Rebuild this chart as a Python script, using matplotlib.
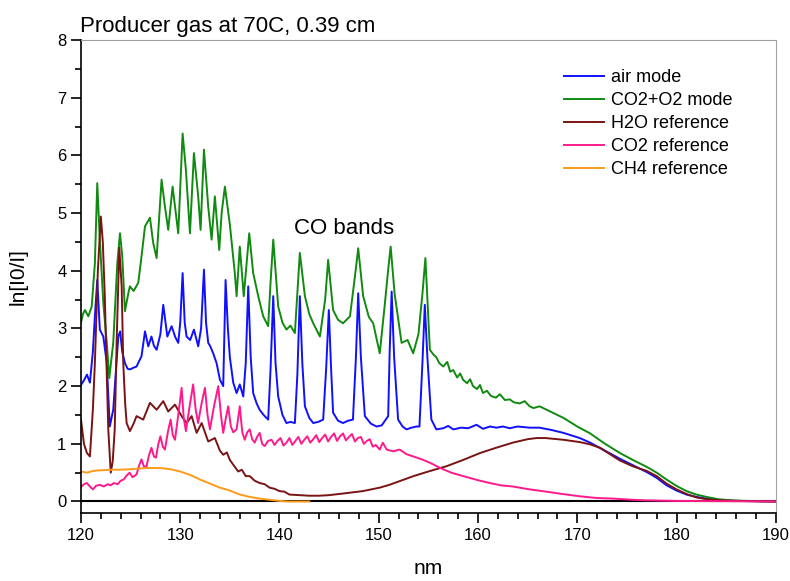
import matplotlib.pyplot as plt
from matplotlib.ticker import MultipleLocator

plt.rcParams['font.family'] = ['Liberation Sans', 'DejaVu Sans']

# ~~~ DATA ~~~~~~~~~~~~~~~~~~~~~~~~~~~~~~~~~~~~~~~~~~~~~~~~~~~~~~~~~~~~~~~~~~~~
air_nm = [120.0, 120.3, 120.6, 120.9, 121.2, 121.4, 121.64, 121.9, 122.25, 122.6,
          122.9, 123.25, 123.5, 123.76, 123.95, 124.15, 124.43, 124.7, 124.93, 125.3,
          125.6, 126.1, 126.45, 126.78, 127.1, 127.35, 127.62, 128.0, 128.29, 128.7,
          129.13, 129.5, 129.8, 130.0, 130.24, 130.45, 130.64, 131.0, 131.38, 131.81,
          132.1, 132.39, 132.6, 132.82, 133.0, 133.32, 133.66, 134.0, 134.33, 134.57,
          134.8, 135.0, 135.34, 135.68, 136.0, 136.35, 136.6, 136.85, 137.1, 137.35,
          137.7, 138.0, 138.4, 138.86, 139.1, 139.37, 139.6, 139.87, 140.3, 140.7,
          141.1, 141.55, 141.8, 142.05, 142.3, 142.56, 143.0, 143.4, 143.9, 144.4,
          144.7, 144.97, 145.2, 145.4, 145.9, 146.4, 146.9, 147.4, 147.7, 147.93,
          148.2, 148.6, 149.2, 149.78, 150.3, 150.95, 151.1, 151.3, 151.55, 151.95,
          152.4, 152.8, 153.3, 153.8, 154.1, 154.4, 154.64, 154.9, 155.3, 155.8,
          156.5, 157.0, 157.5, 158.3, 159.0, 159.85, 160.5, 161.2, 161.86, 162.5,
          163.2, 164.0, 165.2, 166.2, 167.4, 168.6, 170.25, 171.3, 172.8, 174.3,
          175.6, 177.0, 178.0, 179.0, 180.0, 181.0, 182.0, 183.0, 184.5, 186.0, 190.0]
air = [2.02, 2.10, 2.20, 2.06, 2.60, 3.21, 3.84, 2.98, 2.86, 2.40,
       1.30, 1.59, 2.20, 2.86, 2.95, 2.60, 2.40, 2.30, 2.29, 2.32,
       2.34, 2.52, 2.95, 2.69, 2.86, 2.70, 2.63, 2.90, 3.41, 2.86,
       3.04, 2.85, 2.75, 3.10, 3.96, 3.10, 2.86, 2.80, 2.98, 2.69,
       3.00, 4.02, 3.10, 2.75, 2.70, 2.57, 2.40, 2.11, 2.00, 3.84,
       3.00, 2.50, 2.06, 1.88, 2.03, 1.82, 2.40, 3.73, 2.50, 1.88,
       1.70, 1.59, 1.50, 1.42, 2.30, 3.56, 2.40, 1.82, 1.50, 1.36,
       1.38, 1.36, 2.20, 3.56, 2.40, 1.65, 1.45, 1.36, 1.38, 1.42,
       2.30, 3.32, 2.30, 1.54, 1.40, 1.36, 1.40, 1.42, 2.50, 3.61,
       2.50, 1.48, 1.35, 1.30, 1.32, 1.48, 2.60, 3.64, 2.50, 1.42,
       1.30, 1.25, 1.28, 1.30, 1.30, 2.40, 3.41, 2.50, 1.42, 1.25,
       1.27, 1.31, 1.25, 1.28, 1.27, 1.33, 1.26, 1.30, 1.28, 1.30,
       1.27, 1.30, 1.28, 1.28, 1.24, 1.19, 1.10, 1.02, 0.88, 0.74,
       0.63, 0.51, 0.41, 0.28, 0.19, 0.12, 0.08, 0.05, 0.02, 0.01, 0.0]

co2o2_nm = [120.0, 120.2, 120.4, 120.74, 121.08, 121.4, 121.64, 121.9, 122.25, 122.6,
            122.85, 123.25, 123.66, 123.93, 124.16, 124.43, 124.77, 124.93, 125.3, 125.77,
            126.1, 126.45, 126.95, 127.28, 127.62, 128.12, 128.46, 128.79, 129.23, 129.8,
            130.24, 130.57, 130.98, 131.38, 131.81, 132.05, 132.39, 132.82, 133.16, 133.49,
            133.93, 134.17, 134.5, 135.0, 135.5, 135.68, 136.0, 136.4, 136.95, 137.35,
            137.86, 138.36, 138.86, 139.1, 139.37, 139.87, 140.3, 140.7, 141.1, 141.55,
            141.8, 142.05, 142.56, 143.0, 143.4, 144.07, 144.6, 144.9, 145.4, 145.9,
            146.4, 147.1, 147.6, 147.93, 148.43, 149.0, 149.44, 150.1, 150.6, 150.95,
            151.2, 151.6, 152.3, 152.9, 153.47, 154.0, 154.4, 154.7, 155.15, 155.5,
            155.8, 156.1, 156.5, 156.9, 157.2, 157.5, 157.9, 158.2, 158.5, 158.9,
            159.2, 159.5, 159.9, 160.2, 160.5, 160.9, 161.3, 161.8, 162.2, 162.7,
            163.2, 163.6, 164.2, 164.7, 165.2, 165.6, 166.2, 167.4, 168.6, 170.0,
            171.3, 172.8, 174.3, 175.6, 177.0, 178.0, 179.0, 180.0, 181.0, 182.0,
            183.0, 184.2, 185.4, 187.0, 190.0]
co2o2 = [3.10, 3.25, 3.32, 3.21, 3.38, 4.13, 5.52, 4.54, 3.44, 2.75,
         2.14, 2.75, 4.13, 4.65, 4.25, 3.30, 3.61, 3.73, 3.65, 3.79,
         4.25, 4.77, 4.92, 4.48, 4.22, 5.58, 5.11, 4.71, 5.46, 4.65,
         6.38, 5.75, 4.65, 6.04, 5.29, 4.71, 6.10, 5.11, 4.54, 5.29,
         4.36, 5.00, 5.46, 4.80, 3.96, 3.56, 4.42, 3.56, 4.65, 3.96,
         3.56, 3.21, 3.04, 3.80, 4.54, 3.38, 3.10, 2.98, 3.05, 2.92,
         3.60, 4.31, 3.56, 3.25, 3.09, 2.86, 3.50, 4.19, 3.32, 3.15,
         3.09, 3.21, 3.90, 4.39, 3.56, 3.20, 3.09, 2.57, 3.40, 4.02,
         4.42, 3.60, 2.75, 2.80, 2.57, 2.90, 3.60, 4.22, 2.63, 2.55,
         2.50, 2.40, 2.34, 2.42, 2.25, 2.28, 2.15, 2.22, 2.11, 2.05,
         2.12, 2.00, 1.95, 2.02, 1.88, 1.92, 1.83, 1.80, 1.86, 1.76,
         1.77, 1.72, 1.70, 1.74, 1.65, 1.62, 1.65, 1.55, 1.45, 1.30,
         1.18, 1.00, 0.84, 0.72, 0.60, 0.50, 0.38, 0.27, 0.18, 0.12,
         0.08, 0.04, 0.02, 0.01, 0.0]

h2o_nm = [120.0, 120.3, 120.6, 120.9, 121.2, 121.4, 121.7, 122.0, 122.2, 122.4,
          122.6, 122.75, 123.0, 123.2, 123.4, 123.6, 123.86, 124.1, 124.26, 124.45,
          124.6, 124.93, 125.3, 125.6, 126.27, 126.95, 127.62, 128.29, 128.79, 129.47,
          130.14, 130.64, 131.15, 131.65, 132.16, 132.82, 133.49, 134.0, 134.33, 134.7,
          135.0, 135.5, 135.84, 136.2, 136.6, 137.0, 137.5, 138.0, 138.5, 139.0,
          139.5, 140.0, 140.5, 141.0, 142.0, 143.0, 144.0, 145.0, 146.5, 148.4,
          150.1, 151.1, 153.5, 155.0, 156.8, 158.5, 160.2, 161.8, 163.5, 165.0,
          165.9, 166.8, 168.6, 170.25, 171.3, 172.3, 173.3, 174.3, 175.6, 177.0,
          178.0, 179.0, 180.0, 181.0, 182.0, 183.0, 184.5, 186.0, 190.0]
h2o = [1.42, 1.00, 0.84, 0.78, 1.60, 2.40, 4.00, 4.94, 4.50, 3.56,
       2.20, 1.25, 0.50, 0.70, 1.25, 2.80, 4.40, 3.73, 2.40, 1.70,
       1.36, 1.22, 1.35, 1.48, 1.42, 1.71, 1.59, 1.74, 1.56, 1.68,
       1.48, 1.36, 1.48, 1.19, 1.36, 1.04, 1.10, 0.88, 0.81, 0.85,
       0.72, 0.60, 0.52, 0.55, 0.44, 0.44, 0.36, 0.32, 0.30, 0.24,
       0.22, 0.18, 0.17, 0.12, 0.11, 0.10, 0.10, 0.11, 0.14, 0.18,
       0.24, 0.29, 0.44, 0.52, 0.61, 0.72, 0.84, 0.93, 1.02, 1.08,
       1.10, 1.10, 1.07, 1.03, 0.99, 0.93, 0.82, 0.71, 0.61, 0.53,
       0.44, 0.31, 0.21, 0.13, 0.07, 0.04, 0.02, 0.01, 0.0]

co2_nm = [120.0, 120.3, 120.6, 120.9, 121.2, 121.5, 121.9, 122.3, 122.7, 123.0,
          123.3, 123.7, 124.0, 124.3, 124.6, 124.9, 125.2, 125.6, 125.85, 126.1,
          126.35, 126.6, 126.85, 127.1, 127.35, 127.55, 127.8, 128.0, 128.25, 128.46,
          128.75, 129.03, 129.25, 129.47, 129.8, 130.14, 130.35, 130.57, 130.9, 131.3,
          131.55, 131.8, 132.15, 132.49, 132.75, 132.99, 133.4, 133.83, 134.1, 134.33,
          134.6, 134.83, 135.1, 135.34, 135.68, 136.0, 136.25, 136.5, 136.75, 137.0,
          137.25, 137.5, 137.75, 138.0, 138.25, 138.5, 138.85, 139.2, 139.5, 139.8,
          140.1, 140.4, 140.7, 141.0, 141.3, 141.6, 141.9, 142.2, 142.5, 142.8,
          143.1, 143.4, 143.7, 144.0, 144.3, 144.6, 144.9, 145.2, 145.5, 145.8,
          146.1, 146.4, 146.7, 147.0, 147.3, 147.6, 147.9, 148.2, 148.5, 148.8,
          149.1, 149.4, 149.7, 150.1, 150.4, 150.8, 151.45, 152.1, 152.8, 153.5,
          154.5, 155.3, 156.2, 157.3, 158.5, 160.2, 161.2, 162.3, 163.5, 165.2,
          166.9, 168.5, 170.25, 172.0, 173.6, 175.5, 177.0, 180.0, 190.0]
co2 = [0.25, 0.30, 0.32, 0.26, 0.21, 0.27, 0.29, 0.26, 0.30, 0.28,
       0.32, 0.30, 0.36, 0.38, 0.45, 0.50, 0.42, 0.47, 0.62, 0.73,
       0.60, 0.61, 0.80, 0.93, 0.78, 0.76, 1.00, 1.13, 0.95, 0.90,
       1.20, 1.42, 1.15, 1.07, 1.50, 1.97, 1.45, 1.22, 1.60, 2.03,
       1.60, 1.36, 1.70, 1.97, 1.50, 1.25, 1.65, 2.00, 1.50, 1.19,
       1.45, 1.65, 1.30, 1.20, 1.25, 1.65, 1.20, 1.07, 1.20, 1.25,
       1.08, 1.02, 1.12, 1.19, 1.00, 0.96, 1.05, 1.07, 0.98, 1.05,
       1.10, 0.97, 1.02, 1.10, 0.98, 1.05, 1.12, 1.00, 1.07, 1.13,
       1.02, 1.08, 1.15, 1.03, 1.10, 1.16, 1.04, 1.12, 1.18, 1.05,
       1.13, 1.18, 1.06, 1.12, 1.17, 1.04, 1.10, 1.12, 1.00, 1.05,
       1.08, 0.95, 0.98, 0.90, 1.02, 0.90, 0.87, 0.90, 0.82, 0.78,
       0.72, 0.66, 0.58, 0.50, 0.44, 0.36, 0.32, 0.28, 0.26, 0.21,
       0.17, 0.13, 0.09, 0.06, 0.05, 0.03, 0.02, 0.01, 0.0]

ch4_nm = [120.0, 120.6, 121.2, 121.9, 123.0, 123.9, 125.0, 126.6, 128.0, 129.0,
          130.0, 131.0, 132.0, 133.0, 134.0, 135.0, 136.0, 137.0, 138.0, 139.0,
          140.0, 141.0, 143.0]
ch4 = [0.52, 0.50, 0.53, 0.54, 0.55, 0.55, 0.56, 0.58, 0.58, 0.56,
       0.52, 0.46, 0.38, 0.31, 0.24, 0.19, 0.12, 0.08, 0.05, 0.03,
       0.01, 0.0, 0.0]

# ~~~ PLOT ~~~~~~~~~~~~~~~~~~~~~~~~~~~~~~~~~~~~~~~~~~~~~~~~~~~~~~~~~~~~~~~~~~~~
fig = plt.figure(figsize=(7.9, 5.81), dpi=100)
ax = fig.add_axes([0.1025, 0.117, 0.8795, 0.814])

ax.axhline(0, color='black', lw=1.5, zorder=1)
ax.plot(air_nm, air, color='#1010ff', lw=1.4, label='air mode')
ax.plot(co2o2_nm, co2o2, color='#108a10', lw=1.4, label='CO2+O2 mode')
ax.plot(h2o_nm, h2o, color='#7a1414', lw=1.4, label='H2O reference')
ax.plot(co2_nm, co2, color='#ff1a8c', lw=1.4, label='CO2 reference')
ax.plot(ch4_nm, ch4, color='#ff9a1a', lw=1.4, label='CH4 reference')

ax.set_xlim(120, 190)
ax.set_ylim(-0.2, 8)
ax.xaxis.set_major_locator(MultipleLocator(10))
ax.xaxis.set_minor_locator(MultipleLocator(2))
ax.yaxis.set_major_locator(MultipleLocator(1))
ax.yaxis.set_minor_locator(MultipleLocator(0.5))
ax.tick_params(which='major', direction='out', length=7, width=1.2, labelsize=12)
ax.tick_params(which='minor', direction='out', length=4, width=1.2)
for s in ['top', 'right']:
    ax.spines[s].set_color('#a0a0a0')
for s in ['left', 'bottom']:
    ax.spines[s].set_linewidth(1.2)

ax.set_xlabel('nm', fontsize=15, labelpad=12)
ax.set_ylabel('ln[I0/I]', fontsize=15, labelpad=21)
fig.text(0.101, 0.945, 'Producer gas at 70C, 0.39 cm', fontsize=16)
ax.text(141.5, 4.74, 'CO bands', fontsize=16, va='center')

ax.legend(loc='upper left', bbox_to_anchor=(0.672, 0.973), frameon=False,
          fontsize=13, handlelength=2.2, handletextpad=0.4, labelspacing=0.33)

plt.savefig('out.png')
